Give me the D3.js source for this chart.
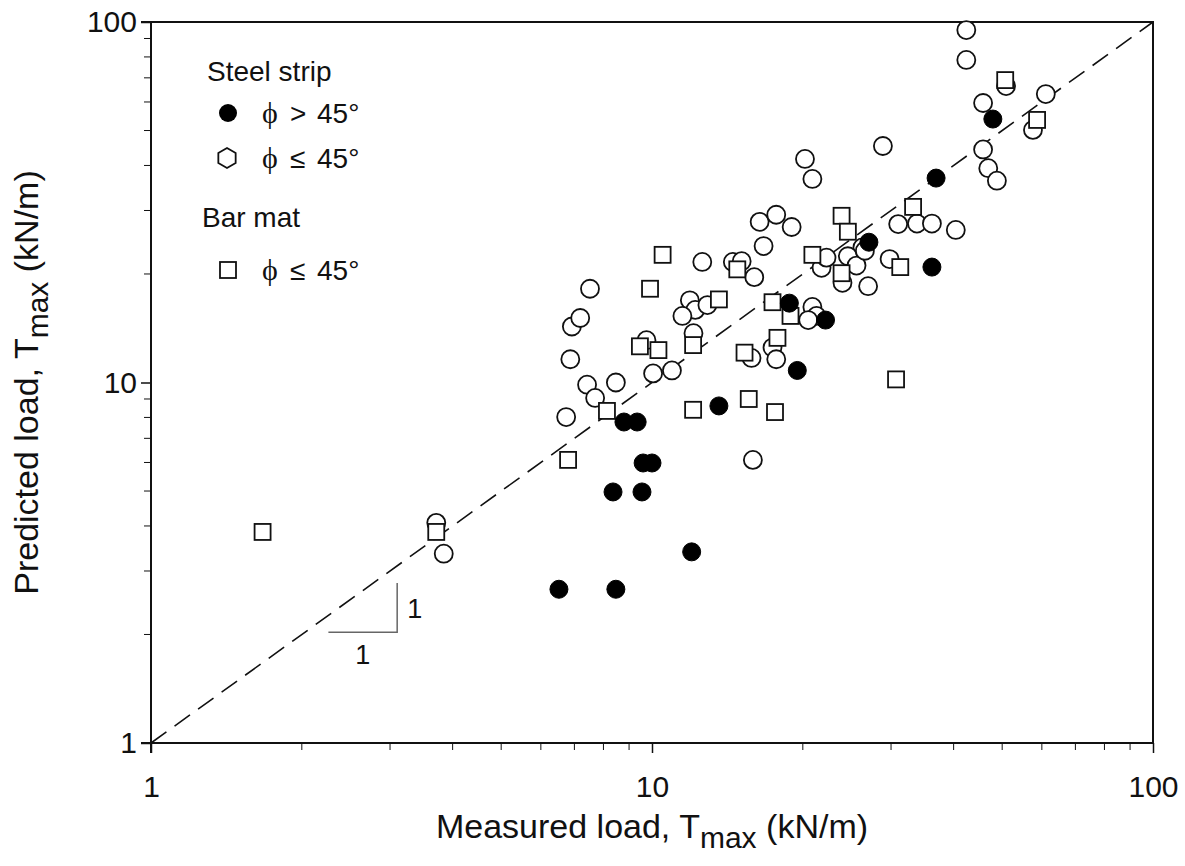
<!DOCTYPE html>
<html>
<head>
<meta charset="utf-8">
<script src="https://cdn.jsdelivr.net/npm/d3@7"></script>
<style>
  body { margin: 0; background: #fff; }
  text { font-family: "Liberation Sans", Arial, sans-serif; fill: #111; }
</style>
</head>
<body>
<div id="chart"></div>
<script>
// data: [measured, predicted] in kN/m
const stripSteep = [
  [6.52, 2.67], [8.47, 2.67], [12.0, 3.39], [8.36, 4.97], [9.55, 4.97],
  [9.6, 5.98], [10.0, 5.98], [8.79, 7.77], [9.34, 7.77], [13.6, 8.61],
  [19.5, 10.8], [22.2, 14.9], [18.8, 16.6], [27.1, 24.5], [36.2, 20.9],
  [36.9, 36.9], [47.9, 53.8]
];
const stripFlat = [
  [3.71, 4.08], [3.84, 3.35], [6.74, 8.02], [6.87, 11.6], [6.92, 14.3],
  [7.19, 15.1], [7.52, 18.2], [7.42, 9.86], [7.70, 9.06], [8.47, 10.0],
  [9.75, 13.1], [10.05, 10.6], [10.96, 10.8], [12.6, 21.6], [11.9, 16.9],
  [12.2, 15.9], [11.5, 15.3], [12.9, 16.4], [12.1, 13.7], [14.5, 21.6],
  [15.1, 21.7], [16.0, 19.6], [16.7, 23.9], [16.4, 27.9], [17.7, 29.2],
  [19.0, 27.0], [20.2, 41.7], [20.9, 36.7], [15.8, 11.7], [17.4, 12.5],
  [17.7, 11.6], [15.9, 6.10], [20.9, 16.2], [21.3, 15.3], [20.5, 14.9],
  [21.8, 20.8], [22.3, 22.2], [24.0, 18.9], [27.0, 18.5], [26.3, 23.7],
  [24.6, 22.4], [25.6, 21.1], [26.6, 23.2], [29.8, 22.0], [31.0, 27.5],
  [33.8, 27.6], [36.2, 27.6], [40.4, 26.5], [28.9, 45.3], [42.4, 95.0],
  [42.4, 78.5], [45.8, 59.6], [50.9, 66.4], [61.1, 63.1], [57.6, 50.2],
  [45.8, 44.3], [46.9, 39.3], [48.8, 36.3]
];
const barMat = [
  [1.67, 3.85], [3.71, 3.85], [6.80, 6.10], [8.13, 8.34], [12.08, 8.4],
  [15.6, 9.0], [17.6, 8.28], [30.7, 10.2], [9.91, 18.2], [10.5, 22.6],
  [9.46, 12.6], [10.3, 12.3], [12.08, 12.7], [13.6, 17.0], [14.8, 20.6],
  [15.3, 12.1], [17.8, 13.3], [17.4, 16.7], [18.9, 15.3], [20.9, 22.6],
  [23.9, 29.0], [24.6, 26.2], [23.9, 20.1], [31.3, 20.9], [33.2, 30.7],
  [50.7, 69.0], [58.7, 53.5]
];
const tickValues = [1, 10, 100];
const minorTicks = [2, 3, 4, 5, 6, 7, 8, 9, 20, 30, 40, 50, 60, 70, 80, 90];

const W = 1185, H = 866;
const margin = { top: 22, right: 32, bottom: 123, left: 151 };
const width = W - margin.left - margin.right,
    height = H - margin.top - margin.bottom;

const svgRoot = d3.select("#chart").append("svg")
    .attr("width", W).attr("height", H);
const svg = svgRoot.append("g")
    .attr("transform", `translate(${margin.left}, ${margin.top})`);

const x = d3.scaleLog().domain([1, 100]).range([0, width]);
const y = d3.scaleLog().domain([1, 100]).range([height, 0]);

// axes, ticks outside
const xAxis = svg.append("g").attr("transform", `translate(0, ${height})`)
    .call(d3.axisBottom(x).tickValues(tickValues).tickFormat(d3.format("d")).tickSize(10).tickPadding(23));
xAxis.append("g").selectAll("line").data(minorTicks).join("line")
    .attr("x1", d => x(d)).attr("x2", d => x(d)).attr("y1", 0).attr("y2", 7)
    .attr("stroke", "#111");
const yAxis = svg.append("g")
    .call(d3.axisLeft(y).tickValues(tickValues).tickFormat(d3.format("d")).tickSize(10).tickPadding(4));
yAxis.append("g").selectAll("line").data(minorTicks).join("line")
    .attr("y1", d => y(d)).attr("y2", d => y(d)).attr("x1", 0).attr("x2", -7)
    .attr("stroke", "#111");
svg.selectAll(".domain").attr("stroke", "#111").attr("stroke-width", 2);
svg.selectAll(".tick line").attr("stroke", "#111").attr("stroke-width", 1.5);
svg.selectAll(".tick text").style("font-size", "30px").attr("fill", "#111");
xAxis.selectAll("path.domain").attr("d", `M-10,0H${width}`);
yAxis.selectAll("path.domain").attr("d", `M0,${height + 10}V0`);

// frame top + right
svg.append("path").attr("d", `M-10,0H${width}V${height}`)
    .attr("fill", "none").attr("stroke", "#111").attr("stroke-width", 2);

// 1:1 line
svg.append("line")
    .attr("x1", x(1)).attr("y1", y(1)).attr("x2", x(100)).attr("y2", y(100))
    .attr("stroke", "#111").attr("stroke-width", 1.6).attr("stroke-dasharray", "19,10");

// slope triangle
const tri = { x0: 2.26, x1: 3.10, y0: 2.03, y1: 2.78 };
svg.append("path")
    .attr("d", `M${x(tri.x0)},${y(tri.y0)}H${x(tri.x1)}V${y(tri.y1)}`)
    .attr("fill", "none").attr("stroke", "#666").attr("stroke-width", 1.5);
svg.append("text").attr("x", x(tri.x1) + 10).attr("y", y(Math.sqrt(tri.y0 * tri.y1)) + 10)
    .style("font-size", "27px").text("1");
svg.append("text").attr("x", x(Math.sqrt(tri.x0 * tri.x1))).attr("y", y(tri.y0) + 32)
    .attr("text-anchor", "middle").style("font-size", "27px").text("1");

// points
const pts = svg.append("g");
pts.selectAll("circle.open").data(stripFlat).join("circle")
    .attr("cx", d => x(d[0])).attr("cy", d => y(d[1])).attr("r", 9)
    .attr("fill", "#fff").attr("stroke", "#111").attr("stroke-width", 1.8);
pts.selectAll("rect.bar").data(barMat).join("rect")
    .attr("x", d => x(d[0]) - 8).attr("y", d => y(d[1]) - 8)
    .attr("width", 16).attr("height", 16)
    .attr("fill", "#fff").attr("stroke", "#111").attr("stroke-width", 1.8);
pts.selectAll("circle.fill").data(stripSteep).join("circle")
    .attr("cx", d => x(d[0])).attr("cy", d => y(d[1])).attr("r", 9)
    .attr("fill", "#000").attr("stroke", "#000").attr("stroke-width", 1);

// legend
const lg = svgRoot.append("g");
const legText = (tx, ty, s) => lg.append("text").attr("x", tx).attr("y", ty)
    .style("font-size", "28px").text(s);
// phi, relation sign and angle set apart as in the original
const legEntry = (ty, rel) => {
  lg.append("text").attr("x", 262).attr("y", ty).style("font-size", "30px")
      .style("font-family", "'Liberation Serif', serif").text("ϕ");
  lg.append("text").attr("x", 290).attr("y", ty).style("font-size", "28px")
      .style("font-weight", "300").text(rel);
  legText(317, ty, "45°");
};
legText(207, 81, "Steel strip");
lg.append("circle").attr("cx", 228).attr("cy", 113).attr("r", 9).attr("fill", "#000");
legEntry(123, ">");
const hex = d3.range(6).map(i => {
  const a = Math.PI / 6 + i * Math.PI / 3;
  return [227 + 10 * Math.cos(a), 158 + 10 * Math.sin(a)];
});
lg.append("path").attr("d", "M" + hex.join("L") + "Z")
    .attr("fill", "#fff").attr("stroke", "#111").attr("stroke-width", 1.8);
legEntry(168, "≤");
legText(202, 227, "Bar mat");
lg.append("rect").attr("x", 220).attr("y", 262).attr("width", 16).attr("height", 16)
    .attr("fill", "#fff").attr("stroke", "#111").attr("stroke-width", 1.8);
legEntry(280, "≤");

// axis titles
const xt = svgRoot.append("text").attr("x", margin.left + width / 2).attr("y", 838)
    .attr("text-anchor", "middle").style("font-size", "34px");
xt.append("tspan").text("Measured load, T");
xt.append("tspan").attr("dy", 10).style("font-size", "30px").text("max");
xt.append("tspan").attr("dy", -10).text(" (kN/m)");

const yt = svgRoot.append("text")
    .attr("transform", `translate(38, ${margin.top + height / 2}) rotate(-90)`)
    .attr("text-anchor", "middle").style("font-size", "34px");
yt.append("tspan").text("Predicted load, T");
yt.append("tspan").attr("dy", 10).style("font-size", "30px").text("max");
yt.append("tspan").attr("dy", -10).text(" (kN/m)");
</script>
</body>
</html>
